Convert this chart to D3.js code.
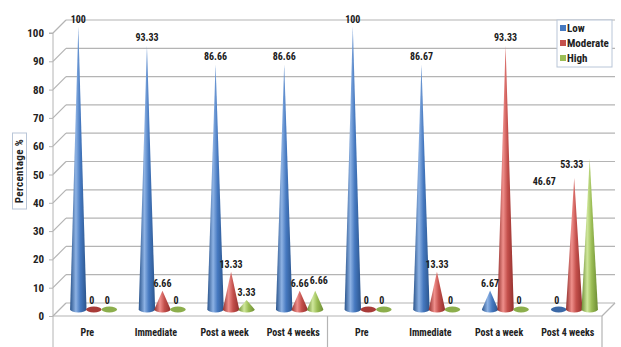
<!DOCTYPE html>
<html>
<head>
<meta charset="utf-8">
<script src="https://cdn.jsdelivr.net/npm/d3@7/dist/d3.min.js"></script>
<style>
  html, body { margin: 0; padding: 0; background: #fff; }
  svg { display: block; }
  text { font-family: "Liberation Sans Narrow", "Arial Narrow", "Roboto Condensed", Arial, sans-serif; }
</style>
</head>
<body>
<svg id="chart" width="621" height="347"></svg>
<script>
// Category labels along the x axis (two groups of four time points)
const categories = ["Pre", "Immediate", "Post a week", "Post 4 weeks",
                    "Pre", "Immediate", "Post a week", "Post 4 weeks"];
const groupSize = 4;

// Series values (percentage of participants)
const lowValues      = [100, 93.33, 86.66, 86.66, 100, 86.67, 6.67, 0];
const moderateValues = [0, 6.66, 13.33, 6.66, 0, 13.33, 93.33, 46.67];
const highValues     = [0, 0, 3.33, 6.66, 0, 0, 0, 53.33];

const seriesNames = ["Low", "Moderate", "High"];
const yTicks = [0, 10, 20, 30, 40, 50, 60, 70, 80, 90, 100];

const series = [
  { name: seriesNames[0], values: lowValues,
    base: "#4679c0", light: "#8db2e4", dark: "#2a548c", flat: "#3b68a6" },
  { name: seriesNames[1], values: moderateValues,
    base: "#c4504c", light: "#ef8f8b", dark: "#922f2c", flat: "#a83b38" },
  { name: seriesNames[2], values: highValues,
    base: "#9bbd55", light: "#cfe79b", dark: "#6c8c33", flat: "#8cae4c" }
];

const svg = d3.select("#chart");

// Plot frame: front floor edge and depth offset of the 3D box
const plotLeft = 53, plotRight = 602, plotBottom = 316, plotTop = 33;
const depth = 13;         // back wall offset (right and up)
const mid = depth / 2;    // cones stand half way into the box

const x = d3.scaleBand().domain(d3.range(categories.length)).range([plotLeft, plotRight]);
const xs = d3.scaleBand().domain(seriesNames).range([-23.25, 23.25]).paddingInner(0);
const y = d3.scaleLinear().domain([0, 100]).range([plotBottom, plotTop]);

const gridColor = "#b4b4b4";

// Back wall gridlines and side wall diagonals
const grid = svg.append("g");
grid.selectAll("line.back").data(yTicks).join("line")
  .attr("x1", plotLeft + depth).attr("x2", plotRight + depth)
  .attr("y1", d => y(d) - depth).attr("y2", d => y(d) - depth)
  .attr("stroke", gridColor).attr("stroke-width", 1.2);
grid.selectAll("line.side").data(yTicks).join("line")
  .attr("x1", plotLeft).attr("x2", plotLeft + depth)
  .attr("y1", d => y(d)).attr("y2", d => y(d) - depth)
  .attr("stroke", gridColor).attr("stroke-width", 1.2);

// Floor front edge and right edge
grid.append("line").attr("x1", plotLeft).attr("x2", plotRight)
  .attr("y1", plotBottom).attr("y2", plotBottom).attr("stroke", gridColor).attr("stroke-width", 1.2);
grid.append("line").attr("x1", plotRight).attr("x2", plotRight + depth)
  .attr("y1", plotBottom).attr("y2", plotBottom - depth).attr("stroke", gridColor).attr("stroke-width", 1.2);

// Y axis line and ticks
const yAxis = d3.axisLeft(y).tickValues(yTicks).tickSize(4).tickPadding(5);
const ya = svg.append("g").attr("transform", `translate(${plotLeft},0)`).call(yAxis);
ya.select(".domain").attr("stroke", gridColor).attr("d", `M-4,${plotTop}H0V347`);
ya.selectAll(".tick line").attr("stroke", gridColor);
ya.selectAll(".tick text").attr("fill", "#222").attr("font-size", 11)
  .attr("font-weight", "bold").attr("dy", "0.32em");

// Group separators below the floor
svg.selectAll("line.sep").data([groupSize, categories.length]).join("line")
  .attr("x1", d => x(d - 1) + x.bandwidth()).attr("x2", d => x(d - 1) + x.bandwidth())
  .attr("y1", plotBottom).attr("y2", 347)
  .attr("stroke", gridColor).attr("stroke-width", 1.2);

// Category labels
svg.selectAll("text.cat").data(categories).join("text")
  .attr("x", (d, i) => x(i) + x.bandwidth() / 2)
  .attr("y", 336)
  .attr("text-anchor", "middle")
  .attr("font-size", 10).attr("font-weight", "bold").attr("fill", "#222")
  .text(d => d);

// Horizontal shading gradients for the cones
const defs = svg.append("defs");
series.forEach((s, k) => {
  const g = defs.append("linearGradient").attr("id", "cone" + k)
    .attr("x1", "0%").attr("x2", "100%").attr("y1", "0%").attr("y2", "0%");
  g.append("stop").attr("offset", "0%").attr("stop-color", s.dark);
  g.append("stop").attr("offset", "35%").attr("stop-color", s.light);
  g.append("stop").attr("offset", "62%").attr("stop-color", s.base);
  g.append("stop").attr("offset", "100%").attr("stop-color", s.dark);
});

const r = 8.2, ry = 2.9;
const baseY = y(0) - mid;
const coneX = (i, s) => x(i) + x.bandwidth() / 2 + mid + xs(s.name) + xs.bandwidth() / 2;

// Cones, one per category and series
const marks = svg.append("g");
categories.forEach((c, i) => {
  series.forEach((s, k) => {
    const v = s.values[i];
    const cx = coneX(i, s);
    if (v === 0) {
      marks.append("ellipse").attr("cx", cx).attr("cy", baseY)
        .attr("rx", r - 0.4).attr("ry", ry).attr("fill", s.flat);
    } else {
      const apex = y(v) - mid;
      const p = `M${cx - r},${baseY} L${cx},${apex} L${cx + r},${baseY} ` +
                `A${r},${ry} 0 0 1 ${cx - r},${baseY} Z`;
      marks.append("path").attr("d", p).attr("fill", `url(#cone${k})`);
    }
  });
});

// Hand-placed label offsets for the crowded last category
const labelNudge = { "7:Moderate": [-30, 11.5], "7:High": [-18, 13] };

// Value labels above each cone; a label that would collide with its
// left neighbour in the same category is nudged to the right
const labels = svg.append("g");
categories.forEach((c, i) => {
  let prev = null;
  series.forEach((s, k) => {
    const v = s.values[i];
    const cx = coneX(i, s);
    const nudge = labelNudge[i + ":" + s.name] || [0, 0];
    const ty = (v === 0 ? baseY - 6 : y(v) - mid - 4) + nudge[1];
    const t = labels.append("text")
      .attr("x", (v === 0 ? cx - 2 : cx) + nudge[0]).attr("y", ty)
      .attr("text-anchor", "middle")
      .attr("font-size", 10).attr("font-weight", "bold").attr("fill", "#1a1a1a")
      .text(v);
    let b = t.node().getBBox();
    if (prev && b.x < prev.x + prev.width + 1 &&
        b.y < prev.y + prev.height && prev.y < b.y + b.height) {
      const shift = prev.x + prev.width + 1 - b.x;
      t.attr("x", +t.attr("x") + shift).attr("y", ty - 3);
      b = t.node().getBBox();
    }
    prev = b;
  });
});

// Y axis title in a framed box
const tb = svg.append("g").attr("transform", "translate(19.5,171)");
tb.append("rect").attr("x", -7).attr("y", -38).attr("width", 14).attr("height", 76)
  .attr("fill", "#fff").attr("stroke", "#b9c6d8");
tb.append("text").attr("transform", "rotate(-90)")
  .attr("text-anchor", "middle").attr("dy", "0.35em")
  .attr("font-size", 11).attr("font-weight", "bold").attr("fill", "#222")
  .attr("letter-spacing", 0.4)
  .text("Percentage %");

// Legend
const lg = svg.append("g").attr("transform", "translate(557,20)");
lg.append("rect").attr("width", 55).attr("height", 47)
  .attr("fill", "#fff").attr("stroke", "#b9c6d8");
series.forEach((s, k) => {
  lg.append("rect").attr("x", 3).attr("y", 5 + k * 15).attr("width", 6).attr("height", 6)
    .attr("fill", s.base);
  lg.append("text").attr("x", 10).attr("y", 12 + k * 15)
    .attr("font-size", 11).attr("fill", "#222").attr("font-weight", "bold")
    .text(s.name);
});
</script>
</body>
</html>
